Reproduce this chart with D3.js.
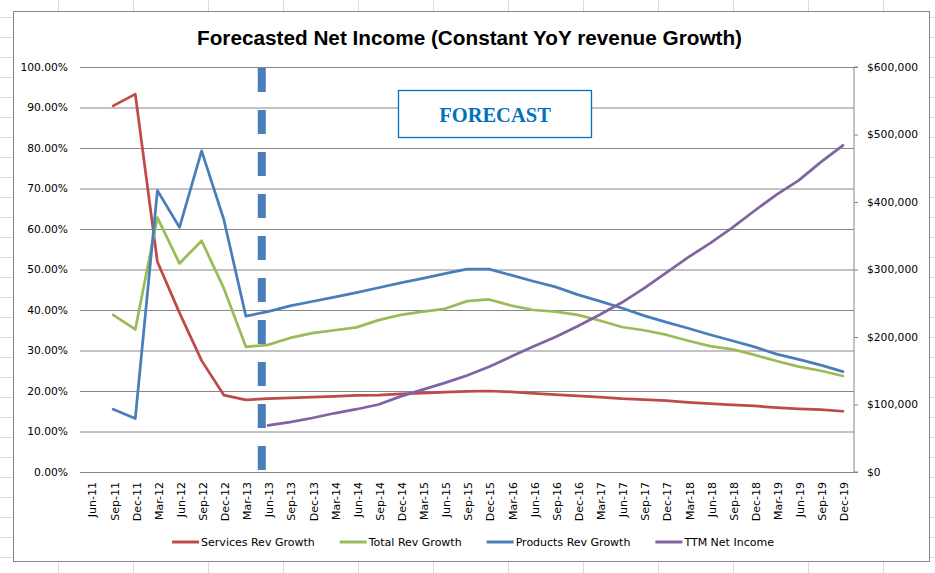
<!DOCTYPE html>
<html><head><meta charset="utf-8">
<script src="https://cdn.jsdelivr.net/npm/d3@7"></script>
<style>
html,body{margin:0;padding:0;background:#fff;}
svg{display:block;}
</style>
</head><body>
<svg id="chart" width="935" height="573"></svg>
<script>
const categories = ["Jun-11","Sep-11","Dec-11","Mar-12","Jun-12","Sep-12","Dec-12","Mar-13","Jun-13","Sep-13","Dec-13","Mar-14","Jun-14","Sep-14","Dec-14","Mar-15","Jun-15","Sep-15","Dec-15","Mar-16","Jun-16","Sep-16","Dec-16","Mar-17","Jun-17","Sep-17","Dec-17","Mar-18","Jun-18","Sep-18","Dec-18","Mar-19","Jun-19","Sep-19","Dec-19"];
const servicesRevGrowth = [null,90.4,93.3,51.9,39.3,27.5,19.0,17.8,18.1,18.3,18.5,18.7,18.9,19.0,19.3,19.5,19.7,19.9,20.0,19.8,19.4,19.1,18.8,18.5,18.1,17.9,17.6,17.2,16.9,16.6,16.3,15.9,15.6,15.4,15.0];
const totalRevGrowth = [null,38.8,35.2,62.8,51.5,57.1,45.4,30.9,31.4,33.1,34.3,35.0,35.7,37.5,38.8,39.6,40.3,42.2,42.6,41.1,40.0,39.6,38.8,37.4,35.8,35.0,33.9,32.4,31.1,30.3,28.9,27.4,26.0,25.0,23.7];
const productsRevGrowth = [null,15.5,13.2,69.5,60.4,79.3,62.4,38.5,39.6,41.0,42.1,43.2,44.3,45.5,46.7,47.8,49.0,50.1,50.1,48.6,47.1,45.7,43.8,42.2,40.5,38.6,37.0,35.5,33.9,32.4,30.9,29.1,27.8,26.4,24.8];
const ttmNetIncome = [null,null,null,null,null,null,null,null,69000,74000,80000,87000,93000,100000,112000,122000,132000,143000,156000,171000,186000,200000,216000,233000,251000,272000,295000,318000,339000,362000,387000,411000,432000,459000,484000];
const leftTicks = [0,10,20,30,40,50,60,70,80,90,100];
const rightTicks = [0,100000,200000,300000,400000,500000,600000];
const seriesNames = ["Services Rev Growth","Total Rev Growth","Products Rev Growth","TTM Net Income"];
const seriesColors = ["#be4b48","#9bbb59","#4a7ebb","#8064a2"];
const titleText = "Forecasted Net Income (Constant YoY revenue Growth)";
const forecastLabel = "FORECAST";
const forecastStart = "Jun-13";

const svg = d3.select("#chart");
const W = 935, H = 573;

// spreadsheet background grid
const bg = svg.append("g");
for (let y = 17; y < H; y += 20) bg.append("line").attr("x1",0).attr("x2",W).attr("y1",y+0.5).attr("y2",y+0.5).attr("stroke","#dadcdd");
for (let x = 58; x < W; x += 75) bg.append("line").attr("x1",x+0.5).attr("x2",x+0.5).attr("y1",0).attr("y2",H).attr("stroke","#dadcdd");

// chart area
svg.append("rect").attr("x",13.5).attr("y",11.5).attr("width",916).attr("height",550)
  .attr("fill","#fff").attr("stroke","#868686").attr("stroke-width",1);

const plot = {left:80, right:854, top:67, bottom:472};
const x = d3.scaleBand().domain(categories).range([plot.left, plot.right]);
const xc = c => x(c) + x.bandwidth()/2;
const yL = d3.scaleLinear().domain([0,100]).range([plot.bottom, plot.top]);
const yR = d3.scaleLinear().domain([0,600000]).range([plot.bottom, plot.top]);

// left axis with gridlines
const gL = svg.append("g").attr("transform",`translate(${plot.left},0)`)
  .call(d3.axisLeft(yL).tickValues(leftTicks).tickSize(-(plot.right-plot.left)).tickPadding(12)
    .tickFormat(d => d.toFixed(2) + "%"));
gL.select(".domain").remove();
gL.selectAll("line").attr("stroke","#868686").attr("stroke-width",1);
gL.selectAll("text").attr("font-family","DejaVu Sans, sans-serif").attr("font-size","10.7px").attr("fill","#000");

// right axis
const gR = svg.append("g").attr("transform",`translate(${plot.right},0)`)
  .call(d3.axisRight(yR).tickValues(rightTicks).tickSize(4).tickPadding(9)
    .tickFormat(d => "$" + d3.format(",")(d)));
gR.select(".domain").attr("stroke","#868686").attr("d",`M4,${plot.top}H0V${plot.bottom}H4`);
gR.selectAll(".tick line").attr("stroke","#868686");
gR.selectAll("text").attr("font-family","DejaVu Sans, sans-serif").attr("font-size","10.7px").attr("fill","#000");

// x axis labels
const gX = svg.append("g").attr("transform",`translate(0,${plot.bottom})`)
  .call(d3.axisBottom(x).tickSize(0));
gX.select(".domain").attr("stroke","#868686");
gX.selectAll("text").attr("transform","rotate(-90)").attr("text-anchor","end")
  .attr("x",-10).attr("y",1.5).attr("dy","0.35em")
  .attr("font-family","DejaVu Sans, sans-serif").attr("font-size","11px").attr("fill","#000");

// lines
const pctSeries = [servicesRevGrowth, totalRevGrowth, productsRevGrowth];
pctSeries.forEach((arr,i) => {
  const line = d3.line().defined(d => d != null).x((d,j) => xc(categories[j])).y(d => yL(d));
  svg.append("path").datum(arr).attr("d", line).attr("fill","none")
    .attr("stroke",seriesColors[i]).attr("stroke-width",2.75).attr("stroke-linejoin","round").attr("stroke-linecap","round");
});
const lineR = d3.line().defined(d => d != null).x((d,j) => xc(categories[j])).y(d => yR(d));
svg.append("path").datum(ttmNetIncome).attr("d", lineR).attr("fill","none")
  .attr("stroke",seriesColors[3]).attr("stroke-width",2.75).attr("stroke-linejoin","round").attr("stroke-linecap","round");

// forecast divider
const fx = x(forecastStart) + x.bandwidth()*0.22;
svg.append("line").attr("x1",fx).attr("x2",fx).attr("y1",plot.top+1).attr("y2",plot.bottom-2)
  .attr("stroke","#4a7ebb").attr("stroke-width",8).attr("stroke-dasharray","24,18");

// forecast box
svg.append("rect").attr("x",398.5).attr("y",90.5).attr("width",193).attr("height",47)
  .attr("fill","#fff").attr("stroke","#0070c0").attr("stroke-width",1.3);
svg.append("text").attr("x",495).attr("y",121.5).attr("text-anchor","middle")
  .attr("font-family","Liberation Serif, Times New Roman, serif").attr("font-weight","bold")
  .attr("font-size","20.5px").attr("fill","#0070c0").text(forecastLabel);

// title
svg.append("text").attr("x",469.5).attr("y",45).attr("text-anchor","middle")
  .attr("font-family","Liberation Sans Narrow, Liberation Sans, Arial, sans-serif").attr("font-weight","bold")
  .attr("font-size","21px").attr("fill","#000")
  .attr("textLength",545).attr("lengthAdjust","spacingAndGlyphs").text(titleText);

// legend
const lg = svg.append("g");
let cx = 0;
seriesNames.forEach((name,i) => {
  const g = lg.append("g").attr("transform",`translate(${cx},0)`);
  g.append("line").attr("x1",0).attr("x2",27).attr("y1",0).attr("y2",0)
    .attr("stroke",seriesColors[i]).attr("stroke-width",3);
  const t = g.append("text").attr("x",29).attr("y",0).attr("dy","0.35em")
    .attr("font-family","DejaVu Sans, sans-serif").attr("font-size","11px").attr("fill","#000").text(name);
  const w = t.node().getComputedTextLength();
  cx += 29 + w + 25;
});
const totalW = cx - 25;
lg.attr("transform",`translate(${473 - totalW/2},542)`);
</script>
</body></html>
